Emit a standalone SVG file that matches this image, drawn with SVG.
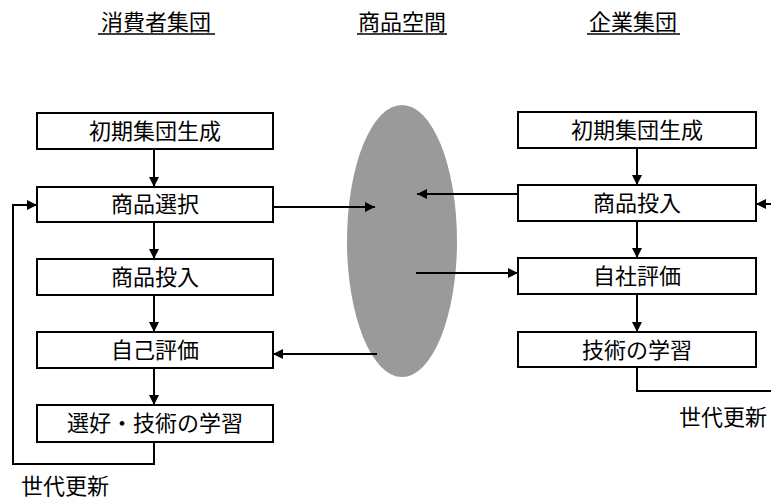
<svg xmlns="http://www.w3.org/2000/svg" width="771" height="501" viewBox="0 0 771 501">
<style>
.box{fill:#fff;stroke:#000;stroke-width:2}
.t{font-family:"Noto Sans CJK JP","Liberation Sans",sans-serif;font-size:22px;text-anchor:middle;fill:#000}
.h{font-family:"Noto Sans CJK JP","Liberation Sans",sans-serif;font-size:22px;text-anchor:middle;fill:#000}
.c{fill:none;stroke:#000;stroke-width:2}
</style>
<defs>
<marker id="a" viewBox="0 0 10 10" refX="10" refY="5" markerWidth="10" markerHeight="10" markerUnits="userSpaceOnUse" orient="auto">
<path d="M0,0 L10,5 L0,10 Z" fill="#000"/>
</marker>
</defs>
<g id="titles">
<text class="h" x="156" y="30">消費者集団</text>
<line x1="98" y1="34" x2="215" y2="34" stroke="#000" stroke-width="1.5"/>
<text class="h" x="402" y="30">商品空間</text>
<line x1="357" y1="34" x2="447" y2="34" stroke="#000" stroke-width="1.5"/>
<text class="h" x="633" y="30">企業集団</text>
<line x1="587" y1="34" x2="680" y2="34" stroke="#000" stroke-width="1.5"/>
</g>
<g id="space"><ellipse cx="402" cy="241" rx="55" ry="136" fill="#9a9a9a"/></g>
<g id="c-init"><rect class="box" x="37" y="113" width="236" height="36"/><text class="t" x="155" y="139">初期集団生成</text></g>
<g id="c-select"><rect class="box" x="37" y="187" width="236" height="35"/><text class="t" x="155" y="212">商品選択</text></g>
<g id="c-invest"><rect class="box" x="37" y="259" width="236" height="36"/><text class="t" x="155" y="285">商品投入</text></g>
<g id="c-eval"><rect class="box" x="37" y="332" width="236" height="36"/><text class="t" x="155" y="358">自己評価</text></g>
<g id="c-learn"><rect class="box" x="37" y="405" width="236" height="37"/><text class="t" x="155" y="431">選好・技術の学習</text></g>
<g id="f-init"><rect class="box" x="518" y="112" width="238" height="36"/><text class="t" x="637" y="138">初期集団生成</text></g>
<g id="f-invest"><rect class="box" x="518" y="185" width="238" height="36"/><text class="t" x="637" y="211">商品投入</text></g>
<g id="f-eval"><rect class="box" x="518" y="258" width="238" height="36"/><text class="t" x="637" y="284">自社評価</text></g>
<g id="f-learn"><rect class="box" x="518" y="332" width="238" height="35"/><text class="t" x="637" y="358">技術の学習</text></g>
<g id="labels">
<text class="t" x="65" y="494">世代更新</text>
<text class="t" x="723" y="425">世代更新</text>
</g>
<g id="connectors">
<line class="c" x1="154" y1="149" x2="154" y2="187" marker-end="url(#a)"/>
<line class="c" x1="154" y1="222" x2="154" y2="259" marker-end="url(#a)"/>
<line class="c" x1="154" y1="295" x2="154" y2="332" marker-end="url(#a)"/>
<line class="c" x1="154" y1="368" x2="154" y2="405" marker-end="url(#a)"/>
<polyline class="c" points="154,442 154,464 13,464 13,205 37,205" marker-end="url(#a)"/>
<line class="c" x1="637" y1="148" x2="637" y2="185" marker-end="url(#a)"/>
<line class="c" x1="637" y1="221" x2="637" y2="258" marker-end="url(#a)"/>
<line class="c" x1="637" y1="294" x2="637" y2="332" marker-end="url(#a)"/>
<polyline class="c" points="637,367 637,391 771,391"/>
<line class="c" x1="771" y1="204" x2="756" y2="204" marker-end="url(#a)"/>
<line class="c" x1="273" y1="207" x2="375" y2="207" marker-end="url(#a)"/>
<line class="c" x1="518" y1="194" x2="417" y2="194" marker-end="url(#a)"/>
<line class="c" x1="416" y1="273" x2="518" y2="273" marker-end="url(#a)"/>
<line class="c" x1="377" y1="354" x2="273" y2="354" marker-end="url(#a)"/>
</g>
</svg>
